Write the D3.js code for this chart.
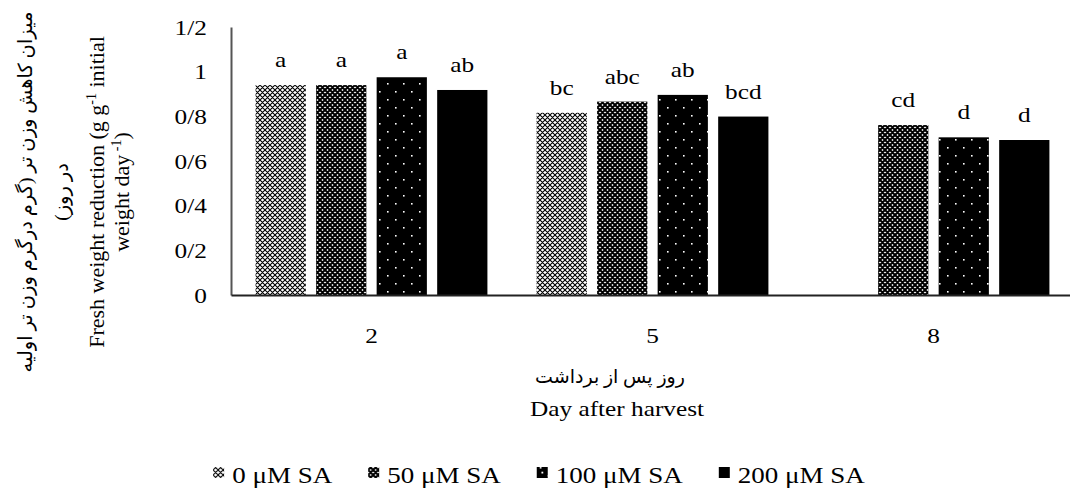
<!DOCTYPE html>
<html>
<head>
<meta charset="utf-8">
<script src="https://cdn.jsdelivr.net/npm/d3@7"></script>
<style>
  body { margin: 0; background: #fff; }
  text { font-family: "Liberation Serif", "DejaVu Sans", serif; fill: #000; }
</style>
</head>
<body>
<svg id="chart"></svg>
<script>
var width = 1070,
    height = 492,
    stretch = 1.15;   // the original text is a bit wider than the font

// data (day after harvest x SA level)
var days = ["2", "5", "8"];
var seriesNames = ["0 μM SA", "50 μM SA", "100 μM SA", "200 μM SA"];
var sa0 = [0.94, 0.816, null];
var sa50 = [0.94, 0.866, 0.761];
var sa100 = [0.975, 0.896, 0.706];
var sa200 = [0.918, 0.799, 0.694];
var let0 = ["a", "bc", ""];
var let50 = ["a", "abc", "cd"];
var let100 = ["a", "ab", "d"];
var let200 = ["ab", "bcd", "d"];
var yTicks = [0, 0.2, 0.4, 0.6, 0.8, 1, 1.2];
var yTickLabels = ["0", "0/2", "0/4", "0/6", "0/8", "1", "1/2"];

var values = [sa0, sa50, sa100, sa200];
var letters = [let0, let50, let100, let200];

var svg = d3.select("#chart")
    .attr("width", width)
    .attr("height", height);

// fill patterns
var defs = svg.append("defs");

function lattice(id, sw) {
  var p = defs.append("pattern").attr("id", id)
    .attr("patternUnits", "userSpaceOnUse")
    .attr("width", 5).attr("height", 5);
  p.append("rect").attr("width", 5).attr("height", 5).attr("fill", "#fff");
  p.append("path").attr("d", "M0,0L5,5M5,0L0,5M-1,4L1,6M4,-1L6,1M-1,1L1,-1M4,6L6,4")
    .attr("stroke", "#000").attr("stroke-width", sw);
}
lattice("p0", 1.1);
lattice("p50", 2.0);

var pd = defs.append("pattern").attr("id", "p100")
  .attr("patternUnits", "userSpaceOnUse")
  .attr("width", 16).attr("height", 16);
pd.append("rect").attr("width", 16).attr("height", 16).attr("fill", "#000");
pd.append("rect").attr("x", 3).attr("y", 3).attr("width", 1.6).attr("height", 1.6).attr("fill", "#fff");
pd.append("rect").attr("x", 11).attr("y", 11).attr("width", 1.6).attr("height", 1.6).attr("fill", "#fff");

var fills = ["url(#p0)", "url(#p50)", "url(#p100)", "#000"];

// scales
var x0 = d3.scaleBand()
  .domain(days)
  .range([231, 1074])
  .paddingInner(0.175)
  .paddingOuter(0.0875);

var x1 = d3.scaleBand()
  .domain(d3.range(seriesNames.length))
  .range([0, x0.bandwidth()])
  .paddingInner(0.17)
  .paddingOuter(0);

var y = d3.scaleLinear()
  .domain([0, 1.2])
  .range([295, 27]);

// bars
var rows = [];
days.forEach(function(d, i) {
  values.forEach(function(s, j) {
    if (s[i] != null) rows.push({day: d, k: j, v: s[i], lab: letters[j][i]});
  });
});

svg.append("g")
  .selectAll("rect")
  .data(rows)
  .join("rect")
  .attr("x", function(d) { return x0(d.day) + x1(d.k); })
  .attr("y", function(d) { return y(d.v); })
  .attr("width", x1.bandwidth())
  .attr("height", function(d) { return y(0) - y(d.v); })
  .attr("fill", function(d) { return fills[d.k]; });

// horizontal text helper, stretched sideways round its anchor
function htext(parent, x, yy, size, anchor) {
  return parent.append("text")
    .attr("transform", "translate(" + x + "," + yy + ") scale(" + stretch + ",1)")
    .attr("text-anchor", anchor || "middle")
    .style("font-size", size + "px");
}

// letters above bars
var lg = svg.append("g");
rows.forEach(function(d) {
  htext(lg, x0(d.day) + x1(d.k) + x1.bandwidth() / 2, y(d.v) - 18, 22).text(d.lab);
});

// y axis
var yAxis = svg.append("g")
  .attr("transform", "translate(231,0)")
  .call(d3.axisLeft(y).tickValues(yTicks)
    .tickFormat(function(d, i) { return yTickLabels[i]; })
    .tickSize(0).tickPadding(21));
yAxis.select(".domain").attr("stroke", "#555").attr("stroke-width", 2);
yAxis.selectAll("text").style("font-size", "22px").attr("font-family", null)
  .attr("transform", "scale(" + stretch + ",1)");

// x axis
var xAxis = svg.append("g")
  .attr("transform", "translate(0,295)")
  .call(d3.axisBottom(x0).tickSize(0).tickPadding(32));
xAxis.select(".domain").attr("stroke", "#222").attr("stroke-width", 2);
xAxis.selectAll("text").style("font-size", "22px").attr("font-family", null)
  .attr("transform", "scale(" + stretch + ",1)");

// x title
svg.append("text")
  .attr("x", 610).attr("y", 383)
  .attr("text-anchor", "middle")
  .attr("direction", "rtl")
  .style("font-size", "19px")
  .text("روز پس از برداشت");
htext(svg, 617, 416, 22).text("Day after harvest");

// y title (rotated)
var cy = 192;
function vtext(xb, size, rtl) {
  var t = svg.append("text")
    .attr("transform", "translate(" + xb + "," + cy + ") rotate(-90)")
    .attr("text-anchor", "middle")
    .style("font-size", size + "px");
  if (rtl) t.attr("direction", "rtl");
  return t;
}
vtext(32, 19.5, true).text("میزان کاهش وزن تر (گرم درگرم وزن تر اولیه");
vtext(68, 19.5, true).text("در روز)");

var e1 = vtext(104, 22, false);
e1.append("tspan").text("Fresh weight reduction (g g");
e1.append("tspan").attr("dy", -8).style("font-size", "14px").text("-1");
e1.append("tspan").attr("dy", 8).text(" initial");
var e2 = vtext(129, 22, false);
e2.append("tspan").text("weight day");
e2.append("tspan").attr("dy", -8).style("font-size", "14px").text(" -1");
e2.append("tspan").attr("dy", 8).text(")");

// legend
var legend = svg.append("g");
var lx = 0;
seriesNames.forEach(function(name, i) {
  var g = legend.append("g").attr("transform", "translate(" + lx + ",0)");
  g.append("rect").attr("x", 0).attr("y", 467).attr("width", 11).attr("height", 11)
    .attr("fill", fills[i]);
  // the dotted key shows a single white dot in the middle
  if (i === 2) {
    g.append("rect").attr("x", 4.7).attr("y", 471.7).attr("width", 1.8).attr("height", 1.8)
      .attr("fill", "#fff");
  }
  var t = htext(g, 19, 483, 23.5, "start").text(name);
  lx += 19 + t.node().getComputedTextLength() * stretch + 36;
});
var lw = lx - 36;
legend.attr("transform", "translate(" + (539 - lw / 2) + ",0)");
</script>
</body>
</html>
